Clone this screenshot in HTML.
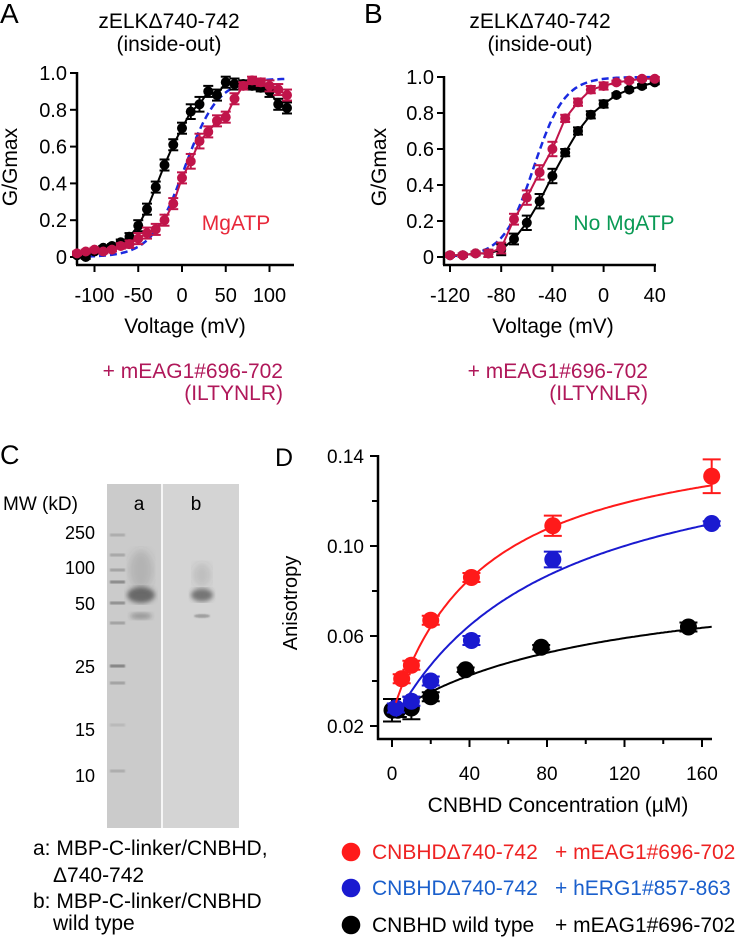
<!DOCTYPE html>
<html><head><meta charset="utf-8">
<style>
html,body{margin:0;padding:0;background:#fff;}
svg{display:block;font-family:"Liberation Sans",Arial,sans-serif;}
</style></head>
<body>
<svg id="fig" width="735" height="937" viewBox="0 0 735 937" xmlns="http://www.w3.org/2000/svg">
<defs>
<filter id="blur1"><feGaussianBlur stdDeviation="0.9"/></filter>
<filter id="blur2"><feGaussianBlur stdDeviation="2.5"/></filter>
<filter id="blur3"><feGaussianBlur stdDeviation="4"/></filter>
</defs>
<text x="0" y="23" font-size="28">A</text>
<text x="169" y="28" font-size="21" text-anchor="middle">zELKΔ740-742</text>
<text x="169" y="51" font-size="21" text-anchor="middle">(inside-out)</text>
<text x="364" y="23" font-size="28">B</text>
<text x="540" y="28" font-size="21" text-anchor="middle">zELKΔ740-742</text>
<text x="540" y="51" font-size="21" text-anchor="middle">(inside-out)</text>
<text x="236" y="230" font-size="21" fill="#e8283a" text-anchor="middle">MgATP</text>
<text x="624" y="230" font-size="21" fill="#0a9a55" text-anchor="middle">No MgATP</text>
<text x="185" y="333" font-size="21" text-anchor="middle">Voltage (mV)</text>
<text x="553" y="333" font-size="21" text-anchor="middle">Voltage (mV)</text>
<text transform="translate(17,167) rotate(-90)" font-size="21" text-anchor="middle">G/Gmax</text>
<text transform="translate(386,167) rotate(-90)" font-size="21" text-anchor="middle">G/Gmax</text>
<text x="283" y="378" font-size="21" fill="#b0185a" text-anchor="end">+ mEAG1#696-702</text>
<text x="283" y="400" font-size="21" fill="#b0185a" text-anchor="end">(ILTYNLR)</text>
<text x="648" y="378" font-size="21" fill="#b0185a" text-anchor="end">+ mEAG1#696-702</text>
<text x="648" y="400" font-size="21" fill="#b0185a" text-anchor="end">(ILTYNLR)</text>

<text x="0" y="464" font-size="27">C</text>
<text x="3" y="510" font-size="19">MW (kD)</text>
<g id="gel">
<rect x="107" y="484" width="54" height="344" fill="#cbcbcb"/>
<rect x="163" y="484" width="76" height="344" fill="#d4d4d4"/>
<rect x="161" y="484" width="2" height="344" fill="#f6f6f6"/>
</g>
<text x="139" y="510" font-size="19" text-anchor="middle">a</text>
<text x="196" y="510" font-size="19" text-anchor="middle">b</text>
<text x="33" y="855" font-size="21">a: MBP-C-linker/CNBHD,</text>
<text x="53" y="882" font-size="21">Δ740-742</text>
<text x="33" y="908" font-size="21">b: MBP-C-linker/CNBHD</text>
<text x="53" y="930" font-size="21">wild type</text>

<text x="275" y="466" font-size="25">D</text>
<text x="558" y="812" font-size="21" text-anchor="middle">CNBHD Concentration (µM)</text>
<text transform="translate(297,603) rotate(-90)" font-size="20" text-anchor="middle">Anisotropy</text>

<g>
<circle cx="351" cy="852" r="9.3" fill="#ff1a1a"/>
<text x="372" y="859" font-size="21" fill="#ee2222">CNBHDΔ740-742</text>
<text x="555" y="859" font-size="21" fill="#ee2222">+ mEAG1#696-702</text>
<circle cx="351" cy="888" r="9.3" fill="#1a1ad0"/>
<text x="372" y="895" font-size="21" fill="#1a5fcc">CNBHDΔ740-742</text>
<text x="555" y="895" font-size="21" fill="#1a5fcc">+ hERG1#857-863</text>
<circle cx="351" cy="925" r="9.3" fill="#000"/>
<text x="372" y="932" font-size="21">CNBHD wild type</text>
<text x="555" y="932" font-size="21">+ mEAG1#696-702</text>
</g>
</svg>
<script>
// ---------- Panel A data ----------
const voltsA = [-120,-110,-100,-90,-80,-70,-60,-50,-40,-30,-20,-10,0,10,20,30,40,50,60,70,80,90,100,110,120];
const blackA = [0.01,0.0,0.03,0.05,0.06,0.08,0.11,0.17,0.26,0.38,0.50,0.61,0.70,0.79,0.83,0.90,0.88,0.95,0.94,0.94,0.93,0.92,0.90,0.83,0.81];
const redA   = [0.02,0.03,0.04,0.03,0.04,0.06,0.07,0.10,0.13,0.15,0.20,0.29,0.43,0.52,0.63,0.68,0.74,0.76,0.86,0.93,0.96,0.95,0.93,0.91,0.88];
const errA   = [0.01,0.01,0.01,0.01,0.01,0.015,0.02,0.03,0.03,0.03,0.03,0.03,0.03,0.04,0.04,0.03,0.03,0.03,0.03,0.02,0.02,0.02,0.03,0.03,0.03];
const boltzA = [3, 19, 0.97];
const xTicksA = [-100,-50,0,50,100];
const yTicks = [0,0.2,0.4,0.6,0.8,1.0];
const yTickLabels = ["0","0.2","0.4","0.6","0.8","1.0"];
// ---------- Panel B data ----------
const voltsB = [-120,-110,-100,-90,-80,-70,-60,-50,-40,-30,-20,-10,0,10,20,30,40];
const blackB = [0.01,0.01,0.02,0.02,0.04,0.10,0.19,0.31,0.45,0.58,0.70,0.79,0.85,0.90,0.93,0.95,0.97];
const redB   = [0.01,0.01,0.02,0.02,0.05,0.21,0.33,0.47,0.60,0.77,0.86,0.93,0.95,0.97,0.98,0.99,0.99];
const errB   = [0.01,0.01,0.01,0.02,0.03,0.03,0.04,0.04,0.04,0.02,0.02,0.02,0.02,0.01,0.01,0.01,0.01];
const boltzB = [-54.5, 12, 1.0];
const xTicksB = [-120,-80,-40,0,40];
// ---------- Panel D data ----------
const concRed = [5,10,20,41,83,165];
const anisRed = [0.041,0.047,0.067,0.086,0.109,0.131];
const errRed  = [0.002,0.002,0.002,0.002,0.0045,0.0075];
const concBlue = [2,10,20,41,83,165];
const anisBlue = [0.028,0.031,0.040,0.058,0.094,0.110];
const errBlue  = [0.002,0.002,0.002,0.002,0.0035,0.001];
const concBlack = [0,3,10,20,38,77,153];
const anisBlack = [0.027,0.027,0.028,0.033,0.045,0.055,0.064];
const errBlack  = [0.005,0.003,0.005,0.002,0.001,0.001,0.002];
const fitRed = [0.025,0.131,47];
const fitBlue = [0.021,0.133,82];
const fitBlack = [0.025,0.0647,108];
const xTicksD = [0,40,80,120,160];
const yTicksD = [0.02,0.06,0.10,0.14];
const yTickLabelsD = ["0.02","0.06","0.10","0.14"];
const yMinorD = [0.04,0.08,0.12];

const NS = "http://www.w3.org/2000/svg";
const svg = document.getElementById('fig');
function mk(tag, attrs, parent){
  const e = document.createElementNS(NS, tag);
  for (const k in attrs) e.setAttribute(k, attrs[k]);
  (parent||svg).appendChild(e);
  return e;
}

// ----- gel details -----
const gel = document.getElementById('gel');
const markerY = [535,555,570,582,603,623,666,683,725,771];
const markerOp = [0.25,0.3,0.35,0.55,0.5,0.35,0.6,0.35,0.15,0.25];
markerY.forEach((y,i)=>{
  const b = mk('rect',{x:110,y:y-1.5,width:15,height:3,fill:'#505050','fill-opacity':markerOp[i],filter:'url(#blur1)'},gel);
  
  
});
// cx, opacity, width, height, cy, filter
[[141,0.18,24,40,570,'blur3'],[141,0.7,28,16,595,'blur2'],[141,0.35,22,7,616,'blur2'],
 [202,0.15,18,24,575,'blur3'],[202,0.65,22,13,595,'blur2'],[202,0.35,16,4,616,'blur1']].forEach(p=>{
  const b = mk('ellipse',{cx:p[0],cy:p[4],rx:p[2]/2,ry:p[3]/2,fill:'#404040','fill-opacity':p[1],filter:'url(#'+p[5]+')'},gel);
  
  
});
const mwLabels = [["250",533],["100",568],["50",604],["25",667],["15",730],["10",776]];
mwLabels.forEach(m=>{
  const t = mk('text',{x:95,y:m[1]+6,'font-size':18,'text-anchor':'end'});
  t.textContent = m[0];
  
  
});

// ----- Voltage panels -----
function voltPanel(cfg){
  const g = mk('g',{});
  
  
  const X = v => cfg.x0 + (v - cfg.vmin)*cfg.kx;
  const Y = f => cfg.y0 - f*cfg.ky;
  const axY = cfg.axisY, axX = cfg.axisX;
  const ya = mk('line',{x1:axX,y1:Y(1.0)-1,x2:axX,y2:axY,stroke:'#000','stroke-width':2.5},g);
   
  const xa = mk('line',{x1:axX-1,y1:axY,x2:cfg.xEnd,y2:axY,stroke:'#000','stroke-width':2.5},g);
   
  yTicks.forEach((t,i)=>{
    mk('line',{x1:axX-7,y1:Y(t),x2:axX,y2:Y(t),stroke:'#000','stroke-width':2},g);
    const tl = mk('text',{x:axX-10,y:Y(t)+7,'font-size':20,'text-anchor':'end'},g);
    tl.textContent = yTickLabels[i];
     
  });
  cfg.ticks.forEach(t=>{
    mk('line',{x1:X(t),y1:axY,x2:X(t),y2:axY+7,stroke:'#000','stroke-width':2},g);
    const tl = mk('text',{x:X(t),y:302,'font-size':20,'text-anchor':'middle'},g);
    tl.textContent = String(t);
     
  });
  let d='';
  for(let v=cfg.vmin; v<=cfg.vmax; v+=2){
    const f = cfg.boltz[2]/(1+Math.exp((cfg.boltz[0]-v)/cfg.boltz[1]));
    d += (d?'L':'M')+X(v).toFixed(1)+','+Y(f).toFixed(1);
  }
  const bl = mk('path',{d:d,fill:'none',stroke:'#1a2ae0','stroke-width':2.5,'stroke-dasharray':'7,4'},g);
   
  const series = [[cfg.black,'#000','black'],[cfg.red,'#c0144a','red']];
  series.forEach(s=>{
    const vals = s[0];
    const pts = cfg.volts.map((v,i)=>X(v).toFixed(1)+','+Y(vals[i]).toFixed(1)).join(' ');
    const ln = mk('polyline',{points:pts,fill:'none',stroke:s[1],'stroke-width':2},g);
     
    cfg.volts.forEach((v,i)=>{
      const x=X(v), y=Y(vals[i]), e=cfg.err[i]*cfg.ky;
      mk('line',{x1:x,y1:y-e,x2:x,y2:y+e,stroke:s[1],'stroke-width':2},g);
      mk('line',{x1:x-5,y1:y-e,x2:x+5,y2:y-e,stroke:s[1],'stroke-width':2},g);
      mk('line',{x1:x-5,y1:y+e,x2:x+5,y2:y+e,stroke:s[1],'stroke-width':2},g);
      const c = mk('circle',{cx:x,cy:y,r:5,fill:s[1]},g);
       
    });
  });
}
voltPanel({name:'panel-a-chart',x0:77,vmin:-120,vmax:120,kx:0.875,y0:257,ky:184,axisY:265,axisX:77,xEnd:294,
  ticks:xTicksA,volts:voltsA,black:blackA,red:redA,err:errA,boltz:boltzA});
voltPanel({name:'panel-b-chart',x0:450,vmin:-120,vmax:40,kx:1.28,y0:257,ky:180,axisY:265,axisX:444,xEnd:656,
  ticks:xTicksB,volts:voltsB,black:blackB,red:redB,err:errB,boltz:boltzB});

// ----- Panel D -----
(function(){
  const g = mk('g',{});
  
  
  const X = c => 392 + c*1.9375;
  const Y = a => 726 - (a-0.02)*2250;
  const ya = mk('line',{x1:378,y1:Y(0.14)-1,x2:378,y2:740,stroke:'#000','stroke-width':2.5},g);
   
  const xa = mk('line',{x1:377,y1:739,x2:712,y2:739,stroke:'#000','stroke-width':2.5},g);
   
  yTicksD.forEach((t,i)=>{
    mk('line',{x1:370,y1:Y(t),x2:378,y2:Y(t),stroke:'#000','stroke-width':2},g);
    const tl = mk('text',{x:364,y:Y(t)+7,'font-size':19,'text-anchor':'end'},g);
    tl.textContent = yTickLabelsD[i];
     
  });
  yMinorD.forEach(t=>mk('line',{x1:372,y1:Y(t),x2:378,y2:Y(t),stroke:'#000','stroke-width':2},g));
  for(let c=0;c<=160;c+=20){
    const big = c%40===0;
    mk('line',{x1:X(c),y1:739,x2:X(c),y2:739+(big?8:5),stroke:'#000','stroke-width':2},g);
  }
  xTicksD.forEach(t=>{
    const tl = mk('text',{x:X(t),y:780,'font-size':19,'text-anchor':'middle'},g);
    tl.textContent = String(t);
     
  });
  const series = [
    [concBlack,anisBlack,errBlack,fitBlack,'#000','black',0],
    [concBlue,anisBlue,errBlue,fitBlue,'#1a1ad0','blue',2],
    [concRed,anisRed,errRed,fitRed,'#ff1a1a','red',2],
  ];
  series.forEach(s=>{
    let d='';
    for(let c=s[6]; c<=165; c+=1){
      const a = s[3][0] + s[3][1]*c/(s[3][2]+c);
      d += (d?'L':'M')+X(c).toFixed(1)+','+Y(a).toFixed(1);
    }
    const fl = mk('path',{d:d,fill:'none',stroke:s[4],'stroke-width':2},g);
     
    s[0].forEach((c,i)=>{
      const x=X(c), y=Y(s[1][i]), e=s[2][i]*2250;
      mk('line',{x1:x,y1:y-e,x2:x,y2:y+e,stroke:s[4],'stroke-width':2},g);
      mk('line',{x1:x-9,y1:y-e,x2:x+9,y2:y-e,stroke:s[4],'stroke-width':2},g);
      mk('line',{x1:x-9,y1:y+e,x2:x+9,y2:y+e,stroke:s[4],'stroke-width':2},g);
      const p = mk('circle',{cx:x,cy:y,r:8.5,fill:s[4]},g);
       
    });
  });
})();
</script>
</body></html>
